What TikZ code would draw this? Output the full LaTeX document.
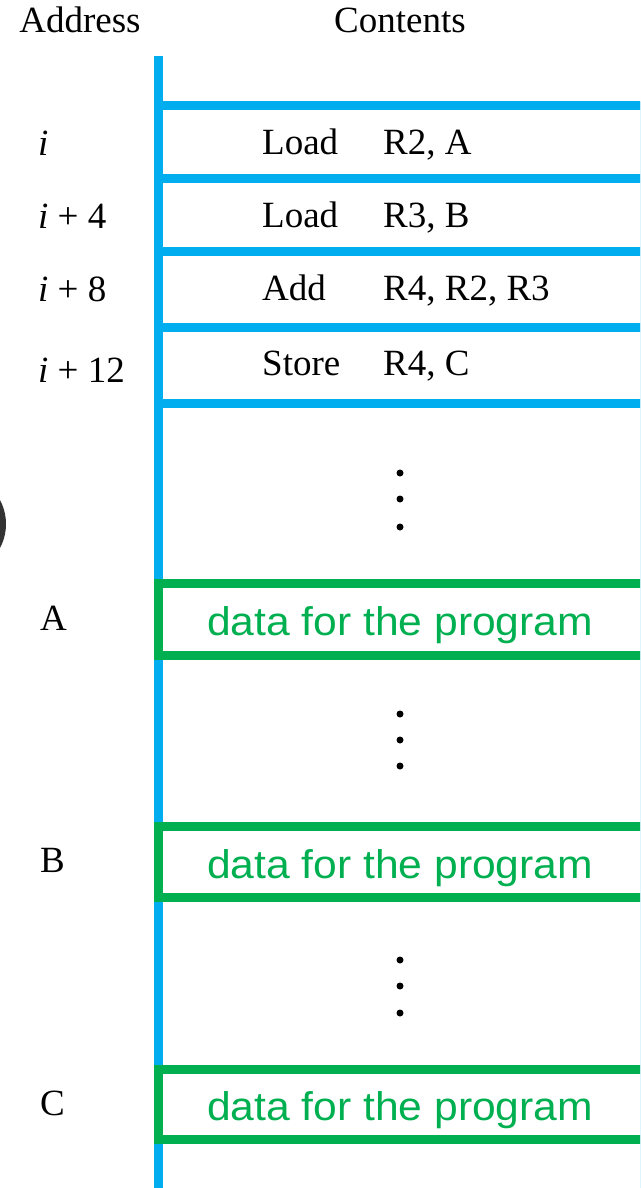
\documentclass[tikz,border=0pt]{standalone}
\usepackage{fontspec}
\setmainfont{Liberation Serif}
\newfontfamily\greenfont{Liberation Sans}
\definecolor{memblue}{HTML}{00AEEF}
\definecolor{memgreen}{HTML}{00B050}
\newcommand{\datatxt}{\scalebox{1.065}[1]{data for the program}}
\begin{document}
\begin{tikzpicture}[x=1pt,y=-1pt,
  serif/.style={font=\fontsize{37}{40}\selectfont, inner sep=0pt, anchor=base west},
  head/.style={font=\fontsize{37}{40}\selectfont, inner sep=0pt, anchor=base},
  bluerule/.style={draw=memblue, line width=9pt},
  databox/.style={draw=memgreen, line width=9pt, minimum width=495pt, anchor=north west, inner sep=0pt, outer sep=0pt},
  datatext/.style={text=memgreen, font=\greenfont\fontsize{40}{44}\selectfont, inner sep=0pt, anchor=base},
  dot/.style={circle, fill=black, inner sep=0pt, minimum size=7pt}]
\useasboundingbox (0,0) rectangle (640,1188);
\begin{scope}
\clip (0,0) rectangle (640,1188);
% blob at left edge
\fill[black!80] (-45,524) circle (51);
% headers
\node[head] (haddr) at (80,33) {Address};
\node[head] (hcont) at (400,33) {Contents};
% left and right vertical lines
\coordinate (ltop) at (158.5,56);
\coordinate (lbot) at (158.5,1192);
\draw[bluerule] (ltop) -- (lbot);
% horizontal lines
\foreach \y/\n in {106/h1,178.5/h2,251.5/h3,327/h4,403/h5}{
  \coordinate (\n l) at (154,\y);
  \coordinate (\n r) at (645,\y);
  \draw[bluerule] (\n l) -- (\n r);
}
% instructions
\node[serif] (a1) at (38,155) {\textit{i}};
\node[serif] (a2) at (38,228) {\textit{i} + 4};
\node[serif] (a3) at (38,301) {\textit{i} + 8};
\node[serif] (a4) at (38,382) {\textit{i} + 12};
\node[serif] (op1) at (262,154) {Load};
\node[serif] (op2) at (262,227) {Load};
\node[serif] (op3) at (262,300) {Add};
\node[serif] (op4) at (262,375) {Store};
\node[serif] (r1) at (383,154) {R2, A};
\node[serif] (r2) at (383,227) {R3, B};
\node[serif] (r3) at (383,300) {R4, R2, R3};
\node[serif] (r4) at (383,375) {R4, C};
% dots
\foreach \y/\n in {473/d1,499/d2,527/d3,714/d4,740/d5,766/d6,960/d7,986/d8,1013/d9}{
  \node[dot] (\n) at (400,\y) {};
}
% data boxes
\node[databox, minimum height=72pt] (boxA) at (158.5,583) {};
\node[databox, minimum height=71pt] (boxB) at (158.5,826) {};
\node[databox, minimum height=70pt] (boxC) at (158.5,1069) {};
\node[datatext] (tA) at (400,635) {\datatxt};
\node[datatext] (tB) at (400,878) {\datatxt};
\node[datatext] (tC) at (400,1120) {\datatxt};
\node[serif] (lA) at (40,630) {A};
\node[serif] (lB) at (40,872) {B};
\node[serif] (lC) at (40,1115) {C};
% right edge line
\coordinate (rtop) at (641,102);
\coordinate (rbot) at (641,1192);
\draw[memblue, line width=3pt] (rtop) -- (rbot);
\end{scope}
\end{tikzpicture}
\end{document}
